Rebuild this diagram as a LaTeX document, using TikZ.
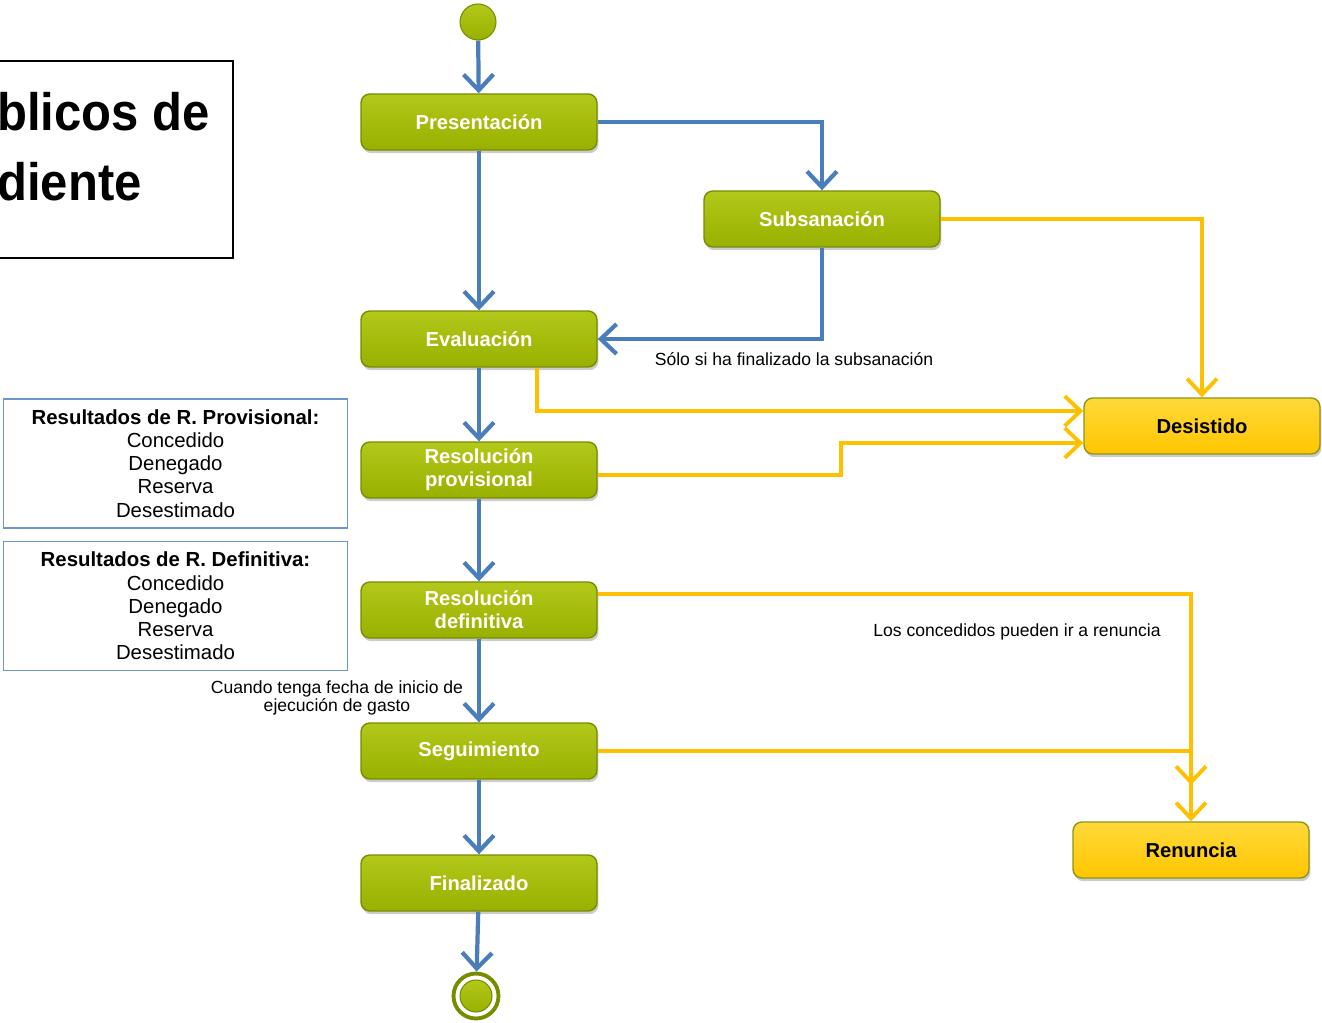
\documentclass[tikz,border=0pt]{standalone}
\usepackage{fontspec}
\setmainfont{Liberation Sans}
\usetikzlibrary{arrows.meta}
\usetikzlibrary{shadows}
\definecolor{phasegreen}{HTML}{98B000}
\definecolor{phasegreenlight}{HTML}{B2C81A}
\definecolor{phaseedge}{HTML}{788C00}
\definecolor{endyellow}{HTML}{FFC600}
\definecolor{endyellowlight}{HTML}{FFD93A}
\definecolor{endedge}{HTML}{8C9612}
\definecolor{flowblue}{HTML}{4A7EBB}
\definecolor{quityellow}{HTML}{FFC000}
\definecolor{noteblue}{HTML}{6F95CF}

\begin{document}
\begin{tikzpicture}[x=0.02cm,y=-0.02cm,
  phase/.style={rectangle,rounded corners=5pt,minimum width=4.72cm,minimum height=1.12cm,inner sep=1pt,top color=phasegreenlight,bottom color=phasegreen,draw=phaseedge,line width=0.8pt,text=white,align=center,font=\fontsize{11.5}{13}\selectfont\bfseries,drop shadow={opacity=0.4,shadow xshift=0.8pt,shadow yshift=-1.8pt}},
  outcome/.style={phase,top color=endyellowlight,bottom color=endyellow,draw=endedge,text=black},
  dot/.style={circle,inner sep=0pt,minimum size=0.72cm,top color=phasegreenlight,bottom color=phasegreen,draw=phaseedge,line width=0.6pt},
  flow/.style={draw=flowblue,line width=2.4pt,-{Straight Barb[length=9pt,width=17pt]}},
  quit/.style={draw=quityellow,line width=2.2pt,-{Straight Barb[length=9pt,width=17pt]}},
  note/.style={draw=noteblue,line width=0.6pt,minimum width=6.9cm,minimum height=2.58cm,align=center,font=\fontsize{11.6}{13.2}\selectfont},
  lbl/.style={align=center,font=\fontsize{10}{10.6}\selectfont}]
  \useasboundingbox (0,0) rectangle (1322,1023);

  %title
  \node[draw,line width=0.7pt,minimum width=4.86cm,minimum height=3.94cm] (title) at (111.5,159.5) {};
  \node[anchor=base west,inner sep=0pt,font=\fontsize{30}{34}\selectfont\bfseries] (title1) at (-3,131) {\scalebox{0.93}[1]{blicos de}};
  \node[anchor=base west,inner sep=0pt,font=\fontsize{30}{34}\selectfont\bfseries] (title2) at (-3,201) {\scalebox{0.93}[1]{diente}};

  %main column
  \node[dot] (start) at (478,22) {};
  \node[phase] (pres) at (479,122) {Presentación};
  \node[phase] (subs) at (822,219) {Subsanación};
  \node[phase] (eval) at (479,339) {Evaluación};
  \node[phase] (rprov) at (479,470) {Resolución\\provisional};
  \node[phase] (rdef) at (479,610) {Resolución\\definitiva};
  \node[phase] (seg) at (479,751) {Seguimiento};
  \node[phase] (fin) at (479,883) {Finalizado};
  \node[circle,draw=phaseedge,line width=2.2pt,minimum size=0.9cm,inner sep=0pt] (stop) at (476,996) {};
  \node[dot,minimum size=0.64cm] (stopdot) at (stop) {};

  %end states
  \node[outcome] (desist) at (1202,426) {Desistido};
  \node[outcome] (renun) at (1191,850) {Renuncia};
  \coordinate (renTip) at (1191,785);

  %result notes
  \node[note] (prov) at (175.5,463.5) {\textbf{Resultados de R. Provisional:}\\Concedido\\Denegado\\Reserva\\Desestimado};
  \node[note] (defi) at (175.5,606) {\textbf{Resultados de R. Definitiva:}\\Concedido\\Denegado\\Reserva\\Desestimado};

  %blue flow
  \draw[flow] (start) -- (pres);
  \draw[flow] (pres) -- (eval);
  \draw[flow] (pres.east) -| (subs.north);
  \draw[flow] (subs.south) |- (eval.east);
  \draw[flow] (eval) -- (rprov);
  \draw[flow] (rprov) -- (rdef);
  \draw[flow] (rdef) -- (seg);
  \draw[flow] (seg) -- (fin);
  \draw[flow] (fin) -- (stop);
  \node[lbl] (subsnote) at (794,359) {Sólo si ha finalizado la subsanación};
  \node[lbl] (segnote) at (337,698) {Cuando tenga fecha de inicio de\\ejecución de gasto};

  %yellow flow
  \draw[quit] (subs.east) -| (desist.north);
  \draw[quit] ([xshift=1.16cm]eval.south) |- ([yshift=0.3cm]desist.west);
  \draw[quit] ([yshift=-0.1cm]rprov.east) -- ++(4.86cm,0) |- ([yshift=-0.34cm]desist.west);
  \draw[quit] ([yshift=0.32cm]rdef.east) -| (renun.north);
  \draw[quit] (seg.east) -| (renTip);
  \node[lbl] (rennote) at (1017,632) {Los concedidos pueden ir a renuncia};
\end{tikzpicture}
\end{document}
